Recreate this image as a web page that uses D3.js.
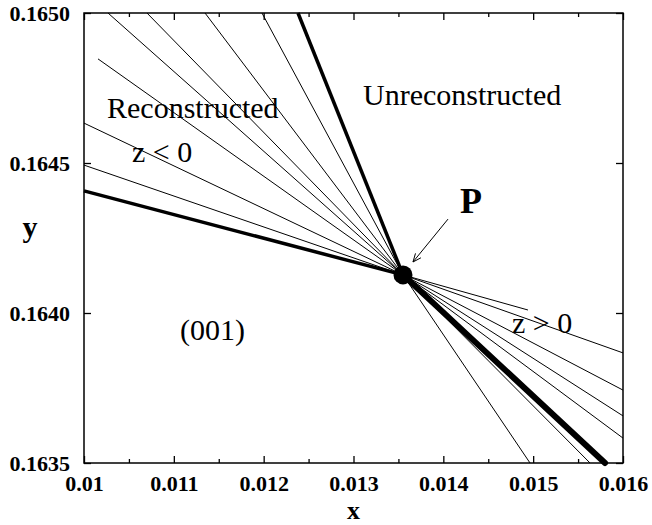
<!DOCTYPE html>
<html>
<head>
<meta charset="utf-8">
<script src="https://cdn.jsdelivr.net/npm/d3@7"></script>
<style>
  body { margin: 0; background: #fff; }
  svg text { font-family: "Liberation Serif", "Times New Roman", serif; fill: #000; }
</style>
</head>
<body>
<div id="chart"></div>
<script>
// ── Data ─────────────────────────────────────────────────────
// Common point P where all boundary lines meet
const pointP = [0.013551, 0.164127];

// Upper-left fan (z < 0): far end of each line
const upperX = [0.0100, 0.0100, 0.0100, 0.010156, 0.010267, 0.010701, 0.011347, 0.011981, 0.012382];
const upperY = [0.164407, 0.164493, 0.164633, 0.164847, 0.1650, 0.1650, 0.1650, 0.1650, 0.1650];

// Lower-right fan (z > 0): far end of each line
const lowerX = [0.014942, 0.0160, 0.0160, 0.0160, 0.0160, 0.015800, 0.015633, 0.014965];
const lowerY = [0.164010, 0.163867, 0.163743, 0.163657, 0.163583, 0.1635, 0.1635, 0.1635];

// Which lines are drawn heavy
const upperBold = [0, 8];
const lowerBold = [5];

const xTicks = [0.010, 0.011, 0.012, 0.013, 0.014, 0.015, 0.016];
const xTickLabels = ["0.01", "0.011", "0.012", "0.013", "0.014", "0.015", "0.016"];
const xMinorTicks = [0.0105, 0.0115, 0.0125, 0.0135, 0.0145, 0.0155];
const yTicks = [0.1635, 0.1640, 0.1645, 0.1650];
const yTickLabels = ["0.1635", "0.1640", "0.1645", "0.1650"];

// Text annotations (anchored in data coordinates)
const notes = [
  { text: "Reconstructed",   x: 0.010256, y: 0.16465 },
  { text: "z < 0",           x: 0.010534, y: 0.164503 },
  { text: "Unreconstructed", x: 0.013106, y: 0.164693 },
  { text: "z > 0",           x: 0.014764, y: 0.163933 },
  { text: "(001)",           x: 0.011069, y: 0.16391 }
];
const labelP = { text: "P", x: 0.014186, y: 0.164333 };
const arrowFrom = [0.014052, 0.164313];
const arrowTo   = [0.013662, 0.164170];

// ── Layout ───────────────────────────────────────────────────
const W = 652, H = 525;
const margin = { top: 13, right: 29, bottom: 62, left: 84 };
const iW = W - margin.left - margin.right;
const iH = H - margin.top - margin.bottom;

const svg = d3.select("#chart").append("svg")
  .attr("width", W).attr("height", H);

const g = svg.append("g")
  .attr("transform", `translate(${margin.left},${margin.top})`);

const xScale = d3.scaleLinear().domain([0.010, 0.016]).range([0, iW]);
const yScale = d3.scaleLinear().domain([0.1635, 0.1650]).range([iH, 0]);

// ── Axes (ticks point inward) ────────────────────────────────
const fmtX = d => xTickLabels[xTicks.indexOf(d)];
const fmtY = d => yTickLabels[yTicks.indexOf(d)];

function styleAxis(ax) {
  ax.select(".domain").remove();
  ax.selectAll("line").attr("stroke", "#000").attr("stroke-width", 1.3);
  ax.selectAll("text")
    .attr("font-size", 22).attr("font-weight", "bold")
    .style("font-family", '"Liberation Serif", "Times New Roman", serif');
}

g.append("g").attr("transform", `translate(0,${iH})`)
  .call(d3.axisBottom(xScale).tickValues(xTicks).tickFormat(fmtX).tickSize(-7).tickPadding(12))
  .call(styleAxis);
g.append("g").attr("transform", `translate(0,${iH})`)
  .call(d3.axisBottom(xScale).tickValues(xMinorTicks).tickFormat("").tickSize(-4))
  .call(styleAxis);
g.append("g")
  .call(d3.axisTop(xScale).tickValues(xTicks).tickFormat("").tickSize(-7))
  .call(styleAxis);
g.append("g")
  .call(d3.axisTop(xScale).tickValues(xMinorTicks).tickFormat("").tickSize(-4))
  .call(styleAxis);
g.append("g")
  .call(d3.axisLeft(yScale).tickValues(yTicks).tickFormat(fmtY).tickSize(-7).tickPadding(14))
  .call(styleAxis);
g.append("g").attr("transform", `translate(${iW},0)`)
  .call(d3.axisRight(yScale).tickValues(yTicks).tickFormat("").tickSize(-7))
  .call(styleAxis);

// Frame
g.append("rect")
  .attr("width", iW).attr("height", iH)
  .attr("fill", "none").attr("stroke", "#000").attr("stroke-width", 1.5);

// ── Boundary lines ──────────────────────────────────────────
const line = d3.line().x(d => xScale(d[0])).y(d => yScale(d[1]));
const lines = g.append("g").attr("fill", "none").attr("stroke", "#000");

upperX.forEach((x, i) => {
  lines.append("path")
    .attr("d", line([[x, upperY[i]], pointP]))
    .attr("stroke-width", upperBold.includes(i) ? 3.5 : 1);
});

lowerX.forEach((x, i) => {
  lines.append("path")
    .attr("d", line([pointP, [x, lowerY[i]]]))
    .attr("stroke-width", lowerBold.includes(i) ? 6 : 1)
    .attr("stroke-linecap", lowerBold.includes(i) ? "round" : "butt");
});

// Point P
g.append("circle")
  .attr("cx", xScale(pointP[0])).attr("cy", yScale(pointP[1]))
  .attr("r", 9.5).attr("fill", "#000");

// Arrow to P
const ax0 = xScale(arrowFrom[0]), ay0 = yScale(arrowFrom[1]);
const ax1 = xScale(arrowTo[0]),   ay1 = yScale(arrowTo[1]);
g.append("line")
  .attr("x1", ax0).attr("y1", ay0).attr("x2", ax1).attr("y2", ay1)
  .attr("stroke", "#000").attr("stroke-width", 1);
const ang = Math.atan2(ay1 - ay0, ax1 - ax0);
[-0.4, 0.4].forEach(da => {
  g.append("line")
    .attr("x1", ax1).attr("y1", ay1)
    .attr("x2", ax1 - 9 * Math.cos(ang + da))
    .attr("y2", ay1 - 9 * Math.sin(ang + da))
    .attr("stroke", "#000").attr("stroke-width", 1);
});

// ── Text annotations ────────────────────────────────────────
notes.forEach(n => {
  g.append("text")
    .attr("x", xScale(n.x)).attr("y", yScale(n.y))
    .attr("font-size", 30)
    .text(n.text);
});

g.append("text")
  .attr("x", xScale(labelP.x)).attr("y", yScale(labelP.y))
  .attr("font-size", 36).attr("font-weight", "bold")
  .text(labelP.text);

// Axis titles
svg.append("text")
  .attr("x", margin.left + iW / 2).attr("y", 519)
  .attr("text-anchor", "middle")
  .attr("font-size", 26).attr("font-weight", "bold")
  .text("x");

svg.append("text")
  .attr("x", 30).attr("y", 237)
  .attr("text-anchor", "middle")
  .attr("font-size", 30).attr("font-weight", "bold")
  .text("y");
</script>
</body>
</html>
